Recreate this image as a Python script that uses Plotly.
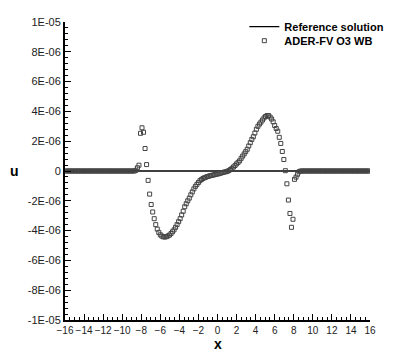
import numpy as np
import plotly.graph_objects as go

# cell centres of the 200-cell grid on [-16, 16]
x_cells = np.linspace(-15.92, 15.92, 200)

# reference solution (zero everywhere)
ref_x = [-16, 16]
ref_u = [0.0, 0.0]

# numerical solution, in units of 1E-06
u_left_flat = [0.0] * 46
u_middle = [
    0.05, 0.22, 0.39, 2.53, 2.90, 2.60, 1.51, 0.43, -0.63, -1.55,
    -2.25, -2.75, -3.20, -3.60, -3.90, -4.12, -4.28, -4.37, -4.42, -4.43,
    -4.41, -4.36, -4.30, -4.20, -4.08, -3.95, -3.78, -3.60, -3.40, -3.20,
    -2.95, -2.70, -2.40, -2.20, -2.00, -1.82, -1.60, -1.40, -1.20, -1.03,
    -0.90, -0.77, -0.65, -0.57, -0.50, -0.45, -0.41, -0.37, -0.34, -0.31,
    -0.29, -0.26, -0.24, -0.21, -0.19, -0.16, -0.13, -0.10, -0.07, -0.05,
    -0.02, 0.03, 0.10, 0.18, 0.27, 0.37, 0.48, 0.58, 0.68, 0.85,
    1.00, 1.15, 1.30, 1.46, 1.68, 1.90, 2.12, 2.30, 2.55, 2.80,
    3.00, 3.15, 3.28, 3.42, 3.56, 3.66, 3.72, 3.72, 3.62, 3.49,
    3.30, 3.05, 2.85, 2.67, 2.26, 1.85, 1.31, 0.77, 0.02, -0.86,
    -1.95, -2.85, -3.78, -3.24, -0.56, -0.41, -0.22, -0.05,
]
u_right_flat = [0.0] * 46
u_num = np.array(u_left_flat + u_middle + u_right_flat) * 1e-6

x_ticks = list(range(-16, 17, 2))
y_tickvals = [1e-5, 8e-6, 6e-6, 4e-6, 2e-6, 0, -2e-6, -4e-6, -6e-6, -8e-6, -1e-5]
y_ticktext = ["1E-05", "8E-06", "6E-06", "4E-06", "2E-06", "0",
              "-2E-06", "-4E-06", "-6E-06", "-8E-06", "-1E-05"]

fnt = "Liberation Sans, Arial, sans-serif"
leg_font = dict(family=fnt, size=11, color="black", weight="bold")

fig = go.Figure()
fig.add_trace(go.Scatter(x=ref_x, y=ref_u, mode="lines", name="Reference solution",
                         line=dict(color="black", width=1.3), legend="legend"))
fig.add_trace(go.Scatter(x=x_cells, y=u_num, mode="markers", name="ADER-FV O3 WB",
                         marker=dict(symbol="square-open", size=4, color="#444444",
                                     line=dict(width=1)), legend="legend2"))

# page body adds an 8px offset, so the figure is sized 8px smaller
fig.update_layout(
    width=393, height=348,
    margin=dict(l=57, r=31, t=14, b=36, autoexpand=False),
    plot_bgcolor="white", paper_bgcolor="white",
    font=dict(family=fnt, size=11, color="#222222"),
    showlegend=True,
    legend=dict(x=0.588, y=1.033, xanchor="left", yanchor="top",
                bgcolor="rgba(0,0,0,0)", font=leg_font),
    legend2=dict(x=0.588, y=0.986, xanchor="left", yanchor="top",
                 bgcolor="rgba(0,0,0,0)", font=leg_font),
)
fig.update_xaxes(range=[-16, 16], tickvals=x_ticks, tickangle=0, ticks="inside", ticklen=6,
                 tickwidth=1, tickcolor="black", showline=True, linewidth=2,
                 linecolor="black", showgrid=False, zeroline=False, automargin=False,
                 tickfont=dict(size=10),
                 minor=dict(ticks="inside", dtick=0.5, ticklen=3, tickcolor="black",
                            showgrid=False))
fig.update_yaxes(range=[-1e-5, 1e-5], tickvals=y_tickvals, ticktext=y_ticktext,
                 ticks="inside", ticklen=6, tickwidth=1, tickcolor="black",
                 showline=True, linewidth=2, linecolor="black", showgrid=False,
                 zeroline=False, automargin=False,
                 minor=dict(ticks="inside", tickvals=list(np.arange(-1e-5, 1.01e-5, 4e-7)),
                            ticklen=3, tickcolor="black", showgrid=False))

fig.add_annotation(text="u", xref="paper", yref="paper", x=-0.167, y=0.5,
                   xanchor="center", yanchor="middle", showarrow=False,
                   font=dict(family=fnt, size=14, color="black", weight="bold"))
fig.add_annotation(text="x", xref="paper", yref="paper", x=0.5, y=-0.08,
                   xanchor="center", yanchor="middle", showarrow=False,
                   font=dict(family=fnt, size=14, color="black", weight="bold"))

fig.write_html("out.html")
